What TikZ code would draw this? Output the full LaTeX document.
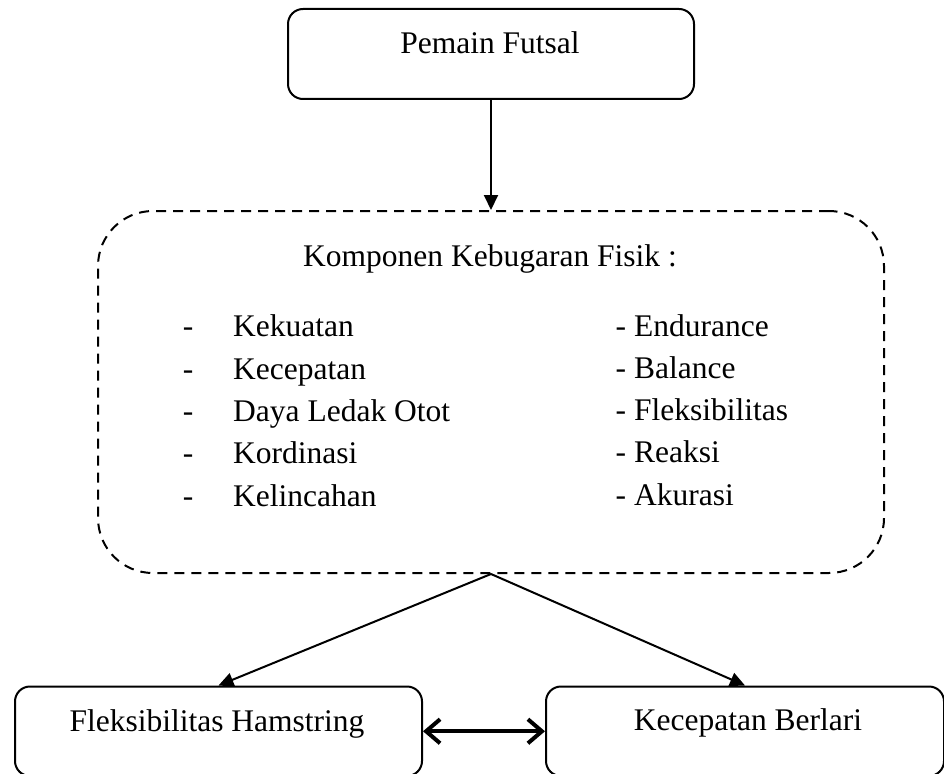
\documentclass[tikz,border=0pt]{standalone}
\usepackage{fontspec}
\setmainfont{Liberation Serif}
\usetikzlibrary{arrows.meta}
\begin{document}
\begin{tikzpicture}[x=1pt,y=-1pt,
  txt/.style={font=\fontsize{31.5}{38}\selectfont, inner sep=0pt},
  solidbox/.style={draw, line width=2pt, rounded corners=15pt, inner sep=0pt, anchor=north west},
  dashbox/.style={draw, line width=2pt, dash pattern=on 10pt off 7pt, rounded corners=55pt, inner sep=0pt, anchor=north west},
  arr/.style={line width=2pt, -{Triangle[length=15pt,width=14pt]}},
  dblarr/.style={line width=4pt, {Straight Barb[length=14pt,width=24pt]}-{Straight Barb[length=14pt,width=24pt]}}
]
\clip (0,0) rectangle (944,773);
\useasboundingbox (0,0) rectangle (944,773);
\fill[white] (0,0) rectangle (944,773);

% boxes
\node[solidbox, minimum width=406pt, minimum height=90pt] (top) at (287,8) {};
\node[dashbox, minimum width=786pt, minimum height=362pt] (comp) at (97,210) {};
\node[solidbox, minimum width=407pt, minimum height=89.5pt] (fh) at (14,685.5) {};
\node[solidbox, minimum width=398pt, minimum height=89.5pt] (kb) at (545,685.5) {};

% texts
\node[txt, anchor=base] (ttop) at (490,53.3) {Pemain Futsal};
\node[txt, anchor=base] (tcomp) at (490,266.7) {Komponen Kebugaran Fisik :};
\node[txt, anchor=base] (tfh) at (217,731.7) {Fleksibilitas Hamstring};
\node[txt, anchor=base] (tkb) at (748,730.5) {Kecepatan Berlari};

% left list
\foreach \t [count=\i from 0] in {Kekuatan,Kecepatan,Daya Ledak Otot,Kordinasi,Kelincahan}{
  \node[txt, anchor=base] (ld\i) at (188,336.7+42.4*\i) {-};
  \node[txt, anchor=base west] (lt\i) at (233,336.7+42.4*\i) {\t};
}
% right list
\foreach \t [count=\i from 0] in {Endurance,Balance,Fleksibilitas,Reaksi,Akurasi}{
  \node[txt, anchor=base west] (rt\i) at (615.5,336+42.3*\i) {- \t};
}

% connectors
\draw[arr] (top.south) -- (comp.north);
\draw[arr] (comp.south) -- (fh.north);
\draw[arr] (comp.south) -- (kb.north);
\draw[dblarr] (fh.east) -- (kb.west);
\end{tikzpicture}
\end{document}
